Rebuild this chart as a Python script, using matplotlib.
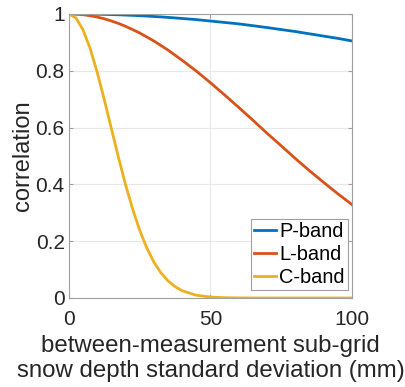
import matplotlib
matplotlib.use('Agg')
import matplotlib.pyplot as plt

# values
sd_mm = [0, 2.5, 5, 7.5, 10, 12.5, 15, 17.5, 20, 22.5, 25, 27.5, 30, 32.5, 35,
         37.5, 40, 45, 50, 55, 60, 65, 70, 75, 80, 85, 90, 95, 100]
p_band = [1.0, 0.9999, 0.9998, 0.9994, 0.999, 0.9984, 0.9978, 0.997, 0.996, 0.995,
          0.9938, 0.9925, 0.991, 0.9895, 0.9878, 0.986, 0.984, 0.980, 0.975, 0.970,
          0.965, 0.9586, 0.952, 0.945, 0.938, 0.930, 0.922, 0.914, 0.905]
l_band = [1.0, 0.9993, 0.9972, 0.9938, 0.989, 0.983, 0.9753, 0.9666, 0.9566, 0.945,
          0.933, 0.919, 0.905, 0.889, 0.873, 0.855, 0.837, 0.799, 0.758, 0.715,
          0.671, 0.626, 0.580, 0.536, 0.491, 0.448, 0.407, 0.367, 0.329]
c_band = [1.0, 0.986, 0.944, 0.879, 0.795, 0.699, 0.597, 0.496, 0.400, 0.314,
          0.239, 0.177, 0.127, 0.089, 0.0605, 0.040, 0.0256, 0.0097, 0.0033, 0.001,
          0.0003, 0.0001, 0.0, 0.0, 0.0, 0.0, 0.0, 0.0, 0.0]

plt.rcParams['font.family'] = ['Liberation Sans', 'DejaVu Sans']

fig = plt.figure(figsize=(4.05, 3.87), dpi=100)
ax = fig.add_axes([0.170, 0.230, 0.699, 0.734])

ax.plot(sd_mm, p_band, color='#0072BD', lw=2, label='P-band')
ax.plot(sd_mm, l_band, color='#D95319', lw=2, label='L-band')
ax.plot(sd_mm, c_band, color='#EDB120', lw=2, label='C-band')

ax.set_xlim(0, 100)
ax.set_ylim(0, 1)
ax.set_xticks([0, 50, 100])
ax.set_yticks([0, 0.2, 0.4, 0.6, 0.8, 1])
ax.set_yticklabels(['0', '0.2', '0.4', '0.6', '0.8', '1'])
ax.grid(True, color='#e8e8e8', lw=0.8)
ax.set_axisbelow(True)
for s in ax.spines.values():
    s.set_color('#a0a0a0')
    s.set_linewidth(0.8)
ax.tick_params(direction='in', length=3, color='#a0a0a0', labelsize=15,
               labelcolor='#262626', top=True, right=True, pad=3)
ax.tick_params(axis='x', pad=9)

ax.set_ylabel('correlation', fontsize=17, color='#262626', labelpad=1)
ax.set_xlabel('between-measurement sub-grid\nsnow depth standard deviation (mm)',
              fontsize=17.3, color='#262626', labelpad=4, linespacing=1.15)

leg = ax.legend(loc='lower right', bbox_to_anchor=(0.986, 0.028), borderaxespad=0,
                fontsize=14.4, fancybox=False, framealpha=1,
                edgecolor='#a0a0a0', handlelength=1.1, handletextpad=0.15,
                borderpad=0.15, labelspacing=0.2)
leg.get_frame().set_linewidth(0.8)

plt.savefig('out.png', dpi=100)
plt.close()
